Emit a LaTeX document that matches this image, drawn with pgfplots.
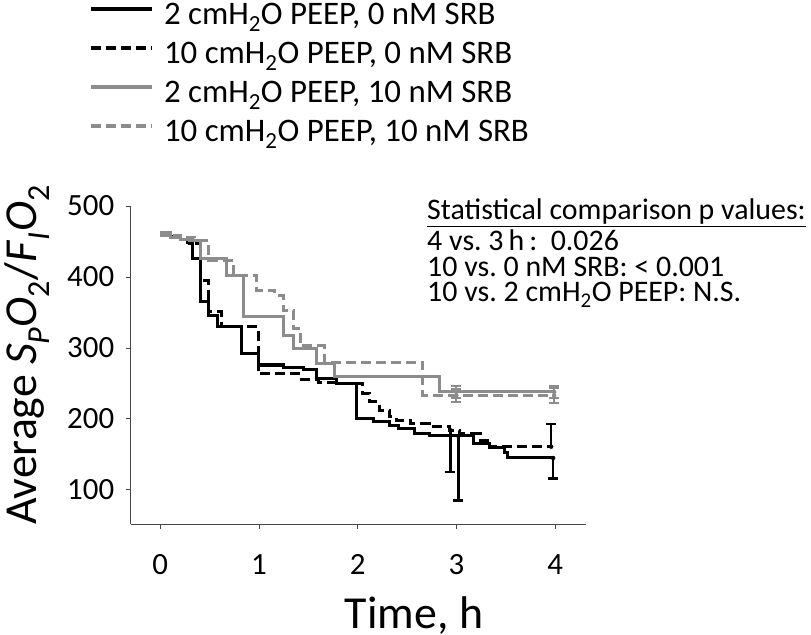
\documentclass[border=0pt]{standalone}
\usepackage{pgfplots}
\pgfplotsset{compat=1.18}
\usepackage{fontspec}
\setmainfont{Carlito}
\definecolor{lgray}{RGB}{140,140,140}
\definecolor{axgray}{RGB}{70,70,70}

\begin{document}
\begin{tikzpicture}
\begin{axis}[
 at={(0bp,0bp)}, anchor=south west,
 scale only axis, width=455bp, height=318bp,
 xmin=-0.3, xmax=4.31, ymin=52, ymax=500,
 axis lines*=left,
 axis line style={axgray, line width=0.9bp},
 tick style={axgray, line width=0.9bp},
 tick align=outside, major tick length=5bp,
 xtick={0,1,2,3,4}, ytick={100,200,300,400,500},
 /pgf/number format/assume math mode=true,
 ticklabel style={font=\fontsize{31}{31}\selectfont},
 xticklabel style={yshift=-22bp},
 yticklabel style={xshift=-8bp},
 clip=false,
 legend style={at={(axis description cs:-0.092,1.637)}, anchor=north west,
   draw=none, fill=none, inner sep=0pt, row sep=10bp,
   font=\fontsize{33}{33}\selectfont,
   nodes={inner sep=0pt, text height=21bp, text depth=8bp},
   /tikz/every odd column/.append style={column sep=10bp}},
 legend cell align=left,
 legend image code/.code={\draw[#1, line width=4bp] (0bp,9bp) -- (61bp,9bp);},
]
% 2 cmH2O PEEP, 0 nM SRB
\addplot[const plot, black, line width=3bp] coordinates {
(0,460) (0.1,457) (0.2,453) (0.28,448) (0.33,426) (0.41,365) (0.49,346) (0.58,330)
(0.82,292) (0.99,276) (1.25,273) (1.45,270) (1.58,257) (1.79,250) (1.99,200)
(2.16,196) (2.32,191) (2.41,186) (2.58,180) (2.73,176) (3.17,166) (3.34,160)
(3.49,153) (3.52,145) (3.98,145)};
\addlegendentry{2 cmH\textsubscript{2}O PEEP, 0 nM SRB}
% 10 cmH2O PEEP, 0 nM SRB
\addplot[const plot, black, line width=3bp, dash pattern=on 10bp off 5bp] coordinates {
(0,461) (0.1,457) (0.2,453) (0.3,447) (0.41,395) (0.49,351) (0.62,330) (0.99,264)
(1.43,256) (1.6,252) (1.8,250) (2.05,236) (2.12,224) (2.22,212) (2.32,203)
(2.39,198) (2.53,193) (2.73,189) (2.93,184) (3.03,179) (3.24,170) (3.34,161) (3.96,161)};
\addlegendentry{10 cmH\textsubscript{2}O PEEP, 0 nM SRB}
% 2 cmH2O PEEP, 10 nM SRB
\addplot[const plot, lgray, line width=3bp] coordinates {
(0,459) (0.1,456) (0.2,453) (0.3,451) (0.41,426) (0.67,402) (0.84,344)
(1.245,317) (1.35,299) (1.58,278) (1.76,260) (2.83,238) (3.98,238)};
\addlegendentry{2 cmH\textsubscript{2}O PEEP, 10 nM SRB}
% 10 cmH2O PEEP, 10 nM SRB
\addplot[const plot, lgray, line width=3bp, dash pattern=on 10bp off 5bp] coordinates {
(0,462) (0.1,459) (0.2,456) (0.35,451) (0.49,423) (0.74,402) (0.97,381) (1.16,374)
(1.245,353) (1.35,328) (1.42,303) (1.66,280) (2.66,233) (3.98,233)};
\addlegendentry{10 cmH\textsubscript{2}O PEEP, 10 nM SRB}

% error bars
\addplot[forget plot, only marks, mark=none, black,
  error bars/.cd, y dir=minus, y explicit, error mark=|,
  error bar style={black, line width=2.5bp},
  error mark options={black, line width=2.5bp, mark size=5bp}]
  coordinates {(3.02,176) -= (0,91) (2.94,184) -= (0,59) (3.98,145) -= (0,29)};
\addplot[forget plot, only marks, mark=none, black,
  error bars/.cd, y dir=plus, y explicit, error mark=|,
  error bar style={black, line width=2.5bp},
  error mark options={black, line width=2.5bp, mark size=5bp}]
  coordinates {(3.96,161) += (0,32)};
\addplot[forget plot, only marks, mark=none, lgray,
  error bars/.cd, y dir=both, y explicit, error mark=|,
  error bar style={lgray, line width=2bp},
  error mark options={lgray, line width=2bp, mark size=5bp}]
  coordinates {(3.0,238) +- (0,9) (3.0,233) +- (0,9) (3.99,238) +- (0,8) (3.99,233) +- (0,10)};
\end{axis}

\node[rotate=90, anchor=base, inner sep=0pt, font=\fontsize{46}{46}\selectfont] at (-93.7bp,169bp)
  {Average \textit{S}\textsubscript{\textit{P}}\textit{O}\textsubscript{2}/\textit{F}\textsubscript{\textit{I}}\textit{O}\textsubscript{2}};
\node[anchor=base, inner sep=0pt, font=\fontsize{46}{46}\selectfont] at (283.3bp,-104bp) {Time, h};

\begin{scope}[every node/.style={anchor=base west, inner sep=0pt, font=\fontsize{30}{30}\selectfont}]
\node at (296.3bp,304bp) {\underline{Statistical comparison p values:}};
\node at (296.3bp,273bp) {4 vs.\ 3\,h\,:\ \ 0.026};
\node at (296.3bp,247bp) {10 vs.\ 0 nM SRB: < 0.001};
\node at (296.3bp,222bp) {10 vs.\ 2 cmH\textsubscript{2}O PEEP: N.S.};
\end{scope}
\pgfresetboundingbox
\path[use as bounding box] (-130.7bp,-111bp) rectangle (680.3bp,524bp);
\end{tikzpicture}
\end{document}
